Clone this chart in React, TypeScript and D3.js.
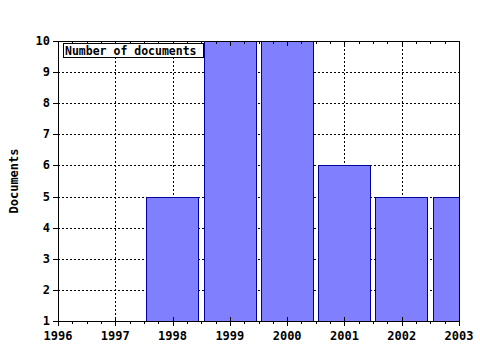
import React from "react";
import * as d3 from "d3";

const years = [1996, 1997, 1998, 1999, 2000, 2001, 2002, 2003];
const barYears = [1998, 1999, 2000, 2001, 2002, 2003];
const documents = [5, 10, 10, 6, 5, 5];
const yTicks = [1, 2, 3, 4, 5, 6, 7, 8, 9, 10];
const legendLabel = "Number of documents";
const yTitle = "Documents";

const W = 480, H = 350;
const M = { left: 58, right: 21, top: 41, bottom: 29 };
const FONT = "'DejaVu Sans Mono', 'Liberation Mono', monospace";

export default function App() {
  const x = d3.scaleLinear().domain([1996, 2003]).range([M.left, W - M.right]);
  const y = d3.scaleLinear().domain([1, 10]).range([H - M.bottom, M.top]);
  const step = x(1997) - x(1996);
  const bw = step * 0.9;
  const minor = d3.range(1996, 2003.001, 0.25).filter((v) => Math.abs(v - Math.round(v)) > 0.01);
  const x0 = M.left, x1 = W - M.right, y0 = H - M.bottom, y1 = M.top;

  return (
    <svg width={W} height={H} style={{ position: "absolute", left: 0, top: 0, background: "#fff" }}>
      <defs>
        <clipPath id="plot">
          <rect x={x0} y={y1} width={x1 - x0 + 1} height={y0 - y1} />
        </clipPath>
      </defs>
      {/* grid */}
      <g stroke="#000" strokeWidth={1} strokeDasharray="2,2" shapeRendering="crispEdges">
        {yTicks.slice(1, -1).map((v) => (
          <line key={"h" + v} x1={x0} x2={x1} y1={Math.round(y(v)) + 0.5} y2={Math.round(y(v)) + 0.5} />
        ))}
        {years.slice(1, -1).map((v) => (
          <line key={"v" + v} x1={Math.round(x(v)) + 0.5} x2={Math.round(x(v)) + 0.5} y1={y1} y2={y0} />
        ))}
      </g>
      {/* bars */}
      <g clipPath="url(#plot)">
        {barYears.map((yr, i) => (
          <rect
            key={yr}
            x={Math.floor(x(yr) - bw / 2) + 0.5}
            y={Math.round(y(documents[i])) + 0.5}
            width={Math.round(bw)}
            height={Math.round(y(1) - y(documents[i]))}
            fill="#8080ff"
            stroke="#000099"
            strokeWidth={1}
          />
        ))}
      </g>
      {/* frame */}
      <g stroke="#000" strokeWidth={1} fill="none" shapeRendering="crispEdges">
        <line x1={x0 + 0.5} x2={x0 + 0.5} y1={y1} y2={y0 + 1} />
        <line x1={x1 + 0.5} x2={x1 + 0.5} y1={y1} y2={y0 + 1} />
        <line x1={x0} x2={x1 + 1} y1={y1 + 0.5} y2={y1 + 0.5} />
        <line x1={x0} x2={x1 + 1} y1={y0 + 0.5} y2={y0 + 0.5} />
        {minor.map((v) => (
          <g key={"m" + v}>
            <line x1={Math.round(x(v)) + 0.5} x2={Math.round(x(v)) + 0.5} y1={y1} y2={y1 + 3} />
            <line x1={Math.round(x(v)) + 0.5} x2={Math.round(x(v)) + 0.5} y1={y0} y2={y0 + 3} />
          </g>
        ))}
        {years.map((v) => (
          <g key={"M" + v}>
            <line x1={Math.round(x(v)) + 0.5} x2={Math.round(x(v)) + 0.5} y1={y1} y2={y1 + 5} />
            <line x1={Math.round(x(v)) + 0.5} x2={Math.round(x(v)) + 0.5} y1={y0 - 4} y2={y0 + 5} />
          </g>
        ))}
        {yTicks.map((v) => (
          <line key={"yt" + v} x1={x0 - 5} x2={x0} y1={Math.round(y(v)) + 0.5} y2={Math.round(y(v)) + 0.5} />
        ))}
      </g>
      {/* labels */}
      <g fontFamily={FONT} fontWeight="bold" fontSize={12} fill="#000">
        {yTicks.map((v) => (
          <text key={"yl" + v} x={x0 - 8} y={y(v) + 4} textAnchor="end">{v}</text>
        ))}
        {years.map((v) => (
          <text key={"xl" + v} x={x(v)} y={y0 + 19} textAnchor="middle">{v}</text>
        ))}
        <text transform={`translate(18,${(y0 + y1) / 2}) rotate(-90)`} textAnchor="middle">{yTitle}</text>
      </g>
      {/* legend */}
      <g>
        <rect x={63.5} y={43.5} width={140} height={14} fill="#fff" stroke="#000" />
        <text x={65} y={55} fontFamily={FONT} fontWeight="bold" fontSize={11.5} fill="#000">{legendLabel}</text>
      </g>
    </svg>
  );
}
